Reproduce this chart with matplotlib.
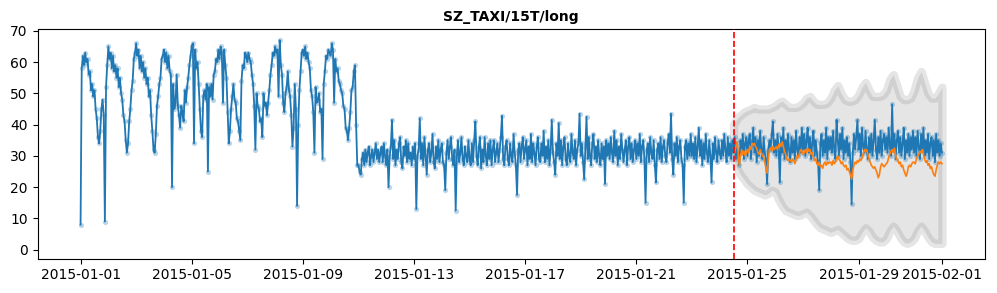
import numpy as np
import pandas as pd
import matplotlib
matplotlib.use("Agg")
import matplotlib.pyplot as plt
import matplotlib.dates as mdates

d00 = [8, 58, 62, 59, 63, 60, 61, 56, 57, 51, 53, 49, 51, 45, 42, 36, 34, 38, 45, 48, 43, 9, 52, 59]
d01 = [65, 61, 63, 58, 62, 57, 59, 55, 58, 52, 55, 50, 48, 43, 41, 35, 31, 34, 41, 45, 51, 54, 61, 63]
d02 = [66, 62, 64, 58, 62, 57, 60, 55, 58, 53, 55, 49, 51, 43, 38, 32, 31, 37, 46, 49, 53, 55, 61, 62]
d03 = [64, 60, 63, 58, 62, 57, 56, 20, 53, 45, 47, 56, 46, 43, 39, 46, 44, 41, 51, 47, 52, 55, 59, 62]
d04 = [65, 66, 34, 64, 58, 60, 53, 45, 38, 36, 49, 51, 48, 53, 25, 52, 49, 53, 48, 56, 57, 61, 60, 64]
d05 = [61, 65, 63, 47, 64, 59, 55, 44, 34, 38, 45, 49, 53, 48, 47, 42, 41, 38, 35, 54, 59, 58, 63, 62]
d06 = [60, 63, 61, 60, 56, 53, 46, 32, 50, 46, 45, 41, 42, 36, 50, 46, 47, 43, 47, 51, 56, 59, 63, 62]
d07 = [65, 63, 64, 49, 67, 59, 56, 47, 44, 50, 52, 57, 51, 49, 43, 33, 39, 53, 45, 14, 40, 51, 57, 63]
d08 = [64, 62, 65, 61, 63, 60, 58, 51, 49, 44, 31, 52, 47, 48, 50, 44, 45, 29, 53, 57, 62, 61, 64, 63]
d09 = [62, 66, 64, 47, 61, 57, 58, 54, 53, 51, 50, 46, 45, 39, 38, 35, 39, 44, 51, 52, 57, 59, 40, 27]
d10 = [27, 25, 24, 29, 31, 27, 32, 28, 31, 33, 27, 30, 32, 28, 31, 34, 29, 32, 28, 31, 33, 28, 34, 30]
d11 = [27, 32, 20, 30, 33, 41.5, 29, 35, 27, 32, 29, 34, 36, 28, 26, 33, 30, 35, 28, 34, 29, 31, 27, 33]
d12 = [29, 34, 13, 30, 32, 42, 29, 34, 27, 36, 30, 24, 32, 34, 28, 31, 37, 28, 26, 33, 29, 35, 28, 32]
d13 = [34, 28, 27, 19, 31, 35, 29, 33, 36, 29, 27, 32, 12.5, 30, 35, 28, 31, 36, 29, 27, 33, 30, 28, 35]
d14 = [29, 27, 34, 28, 35, 41, 30, 27, 33, 36, 26, 32, 28, 36, 30, 27, 34, 29, 35, 27, 32, 35, 28, 31]
d15 = [34, 28, 32, 36, 42.8, 29, 27, 33, 35, 29, 27, 34, 30, 28, 37, 31, 27, 17.5, 32, 34, 28, 33, 36, 29]
d16 = [32, 35, 27, 33, 29, 37, 28, 34, 31, 27, 33, 36, 29, 28, 34, 30, 38, 28, 33, 29, 35, 27, 32, 41.5]
d17 = [31, 28, 24, 34, 30, 40.5, 29, 35, 27, 33, 36, 29, 27, 34, 30, 28, 37, 31, 29, 35, 27, 32, 34, 43.5]
d18 = [30, 34, 28, 22.5, 33, 42.5, 29, 36, 30, 27, 34, 37, 29, 33, 28, 35, 30, 27, 34, 29, 33, 21, 35, 30]
d19 = [34, 29, 36, 31, 28, 38, 30, 35, 27, 33, 29, 37, 32, 28, 32, 35, 27, 33, 36, 29, 34, 28, 32, 35]
d20 = [29, 34, 30, 37, 28, 33, 35, 29, 15, 32, 34, 28, 36, 31, 29, 35, 27, 21.5, 32, 34, 29, 36, 28, 33]
d21 = [35, 30, 28, 34, 37, 31, 43.5, 29, 24, 34, 30, 36, 28, 33, 35, 29, 27, 15, 33, 35, 29, 34, 30, 37]
d22 = [30, 34, 29, 36, 28, 33, 39, 30, 35, 27, 34, 29, 37, 31, 28, 35, 30, 21.5, 34, 29, 36, 31, 28, 35]
d23 = [31, 29, 35, 30, 37, 32, 28, 36, 30, 34, 29, 35, 31, 36, 29, 34, 30, 27, 35, 31, 37, 29, 34, 36]
d24 = [30, 35, 37, 29, 34, 39, 31, 36, 28, 35, 30, 38, 32, 29, 36, 31, 29, 21, 32, 35, 32, 37, 41, 31]
d25 = [35, 30, 37, 32, 21.5, 36, 31, 39, 29, 35, 30, 37, 32, 28, 36, 31, 35, 29, 38, 32, 30, 36, 31, 39]
d26 = [32, 37, 30, 35, 39, 31, 36, 29, 34, 38, 30, 35, 31, 28, 19, 34, 37, 30, 35, 31, 39, 29, 36, 32]
d27 = [36, 31, 38, 32, 29, 41.5, 35, 30, 37, 32, 39, 29, 35, 31, 36, 30, 34, 28, 14.5, 31, 37, 32, 36, 41.5]
d28 = [32, 37, 30, 39, 33, 31, 38, 32, 29, 36, 31, 37, 30, 35, 41.5, 32, 29, 36, 31, 38, 30, 35, 37, 32]
d29 = [36, 31, 39, 33, 30, 46.5, 32, 37, 29, 35, 38, 31, 36, 30, 34, 39, 29, 35, 31, 37, 30, 36, 32, 38]
d30 = [31, 36, 30, 38, 33, 29, 37, 32, 39, 30, 35, 31, 37, 29, 34, 36, 30, 35, 28, 37, 31, 35, 30, 34]
d31 = [31]

observed = (d00 + d01 + d02 + d03 + d04 + d05 + d06 + d07 + d08 + d09 + d10 + d11
            + d12 + d13 + d14 + d15 + d16 + d17 + d18 + d19 + d20 + d21 + d22
            + d23 + d24 + d25 + d26 + d27 + d28 + d29 + d30 + d31)
obs_start = "2015-01-01 00:00"

# hourly point forecast from the cut-off
forecast = [32.5, 31, 33, 34.5, 31, 27, 30, 32, 30.5, 31.5, 30, 31,
            32, 31, 33, 32, 34, 33.5, 34, 33, 32.5, 31, 30.5, 32, 31, 30, 29.5, 28, 26, 24.5, 29, 32, 32.5, 31.5, 33, 32,
            32.5, 33, 32, 33.5, 34, 33, 34.5, 33, 31.5, 30.5, 29, 28.5, 29, 28.5, 28, 29, 28.5, 27.5, 29, 30, 29.5, 31, 32, 31.5,
            30.5, 31, 32, 31, 32.5, 31.5, 32, 30.5, 31, 29.5, 28.5, 29, 27.5, 27, 28, 26.5, 27, 26, 27.5, 28, 27, 28, 27.5, 28,
            28, 27, 28.5, 27.5, 28, 29, 30, 29, 28.5, 27.5, 28, 27, 26.5, 27, 25.5, 26, 25, 24, 22.5, 25.5, 27, 28, 27.5, 28.5,
            28, 29, 28.5, 29.5, 30.5, 32, 31.5, 32, 30.5, 29, 28, 27, 26.5, 26, 26.5, 25.5, 24.5, 23, 24, 26.5, 27.5, 27, 26.5, 27,
            27.5, 28, 29.5, 30.5, 31.5, 32, 31, 32.5, 30, 29, 28.5, 27.5, 28, 26.5, 27, 25.5, 24.5, 23.5, 24.5, 26.5, 27, 26.5, 27.5, 28,
            28, 27.5, 29, 30, 30.5, 31.5, 31, 32, 30.5, 29, 28, 28.5, 27, 27.5, 26, 26.5, 25, 24, 23.5, 25.5, 27, 28, 27.5, 28,
            27.5]
cutoff = "2015-01-24 12:00"

# prediction interval, every 3 hours from the cut-off
band_upper = [40, 42, 43, 44, 44.5, 45, 45.5, 45, 45, 45, 45, 45.5, 46, 47, 47.5, 46.5, 45.5, 45.5, 45.5, 46,
              47, 48.5, 49, 47.5, 46.5, 46.5, 46.5, 47, 48.5, 51, 52.5, 50, 48, 47.5, 47.5, 48, 49.5, 52, 53.5, 51,
              49, 49, 49, 49.5, 51, 54.5, 56, 52.5, 49, 48, 48, 48.5, 51, 55, 57, 53.5, 50, 48.5, 48.5, 50, 52]
band_lower = [29, 26, 24, 22.5, 21, 20, 19, 18.5, 18, 17.5, 18, 19, 18.5, 16, 14, 12.5, 12, 11.5, 11, 11,
              11.5, 12, 11, 9.5, 8, 7, 6.5, 6, 5.5, 6, 6.5, 5.5, 4.5, 3.5, 3, 3, 3.5, 5.5, 7, 6,
              4, 3, 2.5, 2.5, 3.5, 6, 7.5, 6, 4, 2.5, 2, 2.5, 3.5, 6, 7.5, 6, 4, 2.5, 2, 2, 2]

title_text = "SZ_TAXI/15T/long"

# ---------------- plotting ----------------
obs_t = pd.date_range(obs_start, periods=len(observed), freq="h")
fc_t = pd.date_range(cutoff, periods=len(forecast), freq="h")
band_t = pd.date_range(cutoff, periods=len(band_upper), freq="3h")

fig = plt.figure(figsize=(9.97, 2.93), dpi=100)
ax = fig.add_axes([37.5 / 997, 1 - 258.7 / 293, (985 - 37.5) / 997, (258.7 - 29.3) / 293])

ax.fill_between(band_t, band_lower, band_upper, color="gray", alpha=0.2, linewidth=6, zorder=1)

ax.scatter(obs_t, observed, s=14, color="#1f77b4", alpha=0.3, linewidths=0, zorder=2)
ax.plot(obs_t, observed, color="#1f77b4", lw=1.3, zorder=3)
ax.plot(fc_t, forecast, color="#ff7f0e", lw=1.2, zorder=4)
ax.axvline(pd.Timestamp(cutoff), color="red", ls="--", lw=1.2, zorder=5)

ax.set_ylim(-2.9, 70.5)
ax.xaxis.set_major_locator(mdates.DayLocator(bymonthday=[1, 5, 9, 13, 17, 21, 25, 29]))
ax.xaxis.set_major_formatter(mdates.DateFormatter("%Y-%m-%d"))
ax.set_title(title_text, fontsize=10, fontweight="bold")

fig.savefig("out.png", dpi=100)
